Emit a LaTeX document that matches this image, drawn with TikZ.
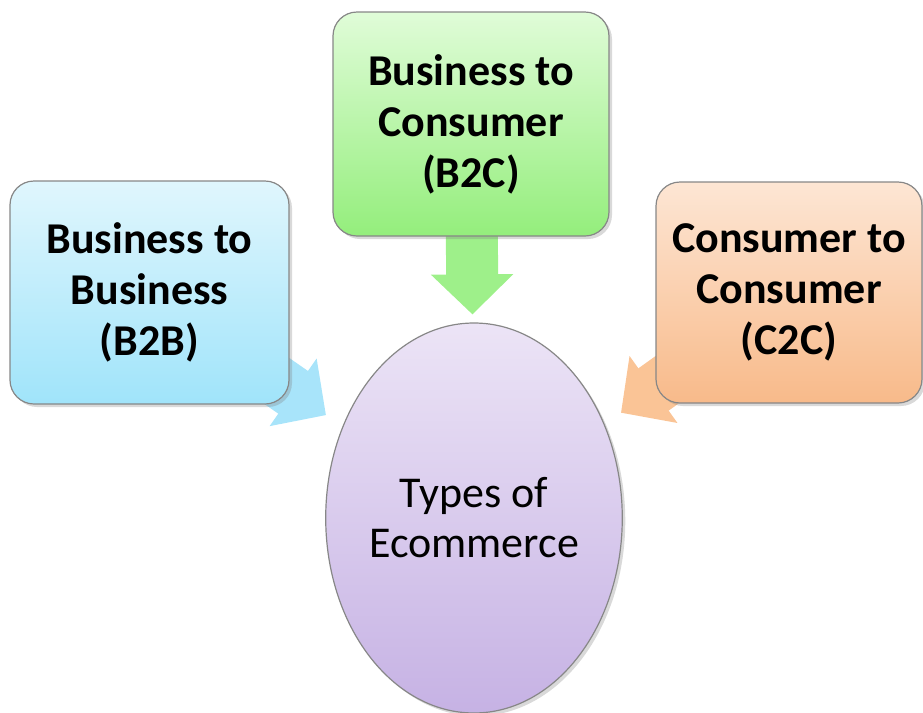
\documentclass[tikz,border=0pt]{standalone}
\usepackage{fontspec}
\setmainfont{Carlito}
\usetikzlibrary{arrows.meta,shapes.geometric,shadows,backgrounds}
\definecolor{boxline}{RGB}{135,135,135}
\definecolor{bluetop}{RGB}{224,246,253}
\definecolor{bluebot}{RGB}{160,228,250}
\definecolor{greentop}{RGB}{224,252,216}
\definecolor{greenbot}{RGB}{148,238,124}
\definecolor{orangetop}{RGB}{253,230,212}
\definecolor{orangebot}{RGB}{248,186,138}
\definecolor{purpletop}{RGB}{236,228,246}
\definecolor{purplebot}{RGB}{198,178,228}
\definecolor{bluearrow}{RGB}{168,228,250}
\definecolor{greenarrow}{RGB}{158,240,138}
\definecolor{orangearrow}{RGB}{250,196,150}
\begin{document}
\begin{tikzpicture}[x=0.5pt,y=-0.5pt,
	typebox/.style={rectangle,rounded corners=12pt,draw=boxline,line width=0.6pt,
	align=center,inner sep=0pt,font=\fontsize{22}{25.5}\selectfont\bfseries,
	drop shadow={shadow xshift=1.5pt,shadow yshift=-1.5pt,opacity=0.3}},
	fatarrow/.style={line width=26pt,-{Triangle[length=20pt,width=40pt]}}]
\useasboundingbox (0,0) rectangle (923,713);
% the three kinds
\node[typebox,minimum width=139.5pt,minimum height=111.5pt,
	top color=bluetop,bottom color=bluebot] (b2b) at (149.5,292.5)
	{Business to\\Business\\(B2B)};
\node[typebox,minimum width=138pt,minimum height=112pt,
	top color=greentop,bottom color=greenbot] (b2c) at (471,124)
	{Business to\\Consumer\\(B2C)};
\node[typebox,minimum width=133pt,minimum height=110.5pt,
	top color=orangetop,bottom color=orangebot] (c2c) at (789,292.5)
	{Consumer to\\Consumer\\(C2C)};
% centre
\node[ellipse,draw=boxline,line width=0.6pt,minimum width=143.5pt,minimum height=195pt,
	inner sep=0pt,top color=purpletop,bottom color=purplebot,align=center,
	font=\fontsize{22}{25}\selectfont,
	drop shadow={shadow xshift=1.5pt,shadow yshift=-1.5pt,opacity=0.3}] (ecom) at (474,518)
	{Types of\\Ecommerce};
\begin{scope}[on background layer]
\draw[fatarrow,bluearrow,shorten >=10pt] (b2b.center) -- (ecom);
\draw[fatarrow,greenarrow,shorten >=4pt] (b2c.center) -- (ecom);
\draw[fatarrow,orangearrow,shorten >=10pt] (c2c.center) -- (ecom);
\end{scope}
\end{tikzpicture}
\end{document}
